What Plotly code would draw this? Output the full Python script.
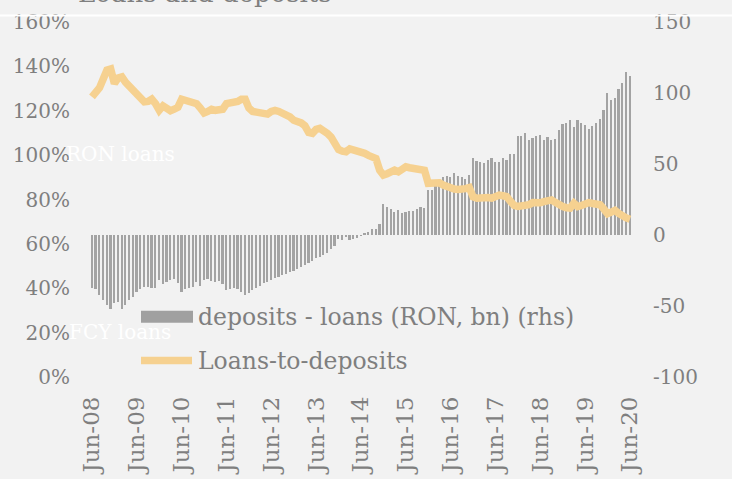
import plotly.graph_objects as go

# ---- data ----
tick_labels = ["Jun-08", "Jun-09", "Jun-10", "Jun-11", "Jun-12", "Jun-13", "Jun-14",
               "Jun-15", "Jun-16", "Jun-17", "Jun-18", "Jun-19", "Jun-20"]

# deposits - loans (RON, bn), monthly Jun-08 .. Jun-20
deposits_minus_loans = [
    -37, -38, -42.6, -46, -49.6, -51.9, -48, -47, -51.9, -49.6, -46, -43.8,
    -40.3, -38, -36.8, -36.8, -37, -37, -32, -34.4, -33.3, -32, -31, -34,
    -40, -38, -37.5, -36.8, -33.3, -36, -32, -31, -32.5, -33.3, -32.5, -34.4,
    -39, -38, -37, -38, -40.3, -42, -41, -39, -37, -36, -34, -33,
    -31.5, -30, -29.5, -28, -27.5, -26, -25, -24, -22.5, -21, -19.5, -18,
    -16.5, -15.5, -14, -12.5, -10, -8, -3, -3.5, -1.2, -3.5, -3, -2,
    -0.7, 1, 2, 4, 4.5, 7.5, 22.1, 19.6, 18.6, 16, 17.9, 15.2,
    16, 16.8, 17.2, 18.6, 19.6, 19.1, 31.9, 31.9, 36.5, 38.2, 41.2, 41.9,
    40.5, 43.5, 41.9, 40.5, 39.6, 42.4, 54, 52.4, 51.7, 51, 52.9, 54,
    51.2, 51.7, 54.5, 52.9, 56.8, 56.8, 69.8, 69.8, 72.1, 66.8, 68.4, 69.6,
    70.3, 66.8, 69.1, 66.8, 67.5, 73.8, 78.4, 79.1, 80.8, 76.1, 80.8, 79.1,
    77.3, 74.9, 76.8, 79.1, 81.9, 87.8, 99.9, 94.8, 96.4, 102.9, 106.8, 114.7,
    112.2,
]

# Loans-to-deposits (%), monthly Jun-08 .. Jun-20
loans_to_deposits = [
    126.2, 127.8, 130.3, 134.3, 138.3, 138.8, 132.3, 134.8, 135.3, 132.8, 130.8, 128.7,
    126.7, 125.2, 124.0, 124.2, 125.2, 123.2, 120.2, 122.2, 121.2, 120.0, 120.7, 121.6,
    125.2, 124.7, 123.7, 123.5, 123.2, 121.2, 119.0, 119.7, 120.7, 120.2, 120.5, 120.7,
    123.2, 123.6, 123.2, 124.2, 125.2, 125.2, 121.2, 119.7, 119.4, 119.2, 118.7, 118.5,
    119.7, 120.2, 119.7, 119.0, 118.2, 117.2, 115.7, 115.2, 114.5, 113.2, 110.2, 109.8,
    111.6, 112.1, 111.1, 109.8, 108.1, 105.1, 102.5, 101.8, 101.5, 102.8, 102.4, 101.9,
    101.4, 100.8, 99.9, 99.2, 98.5, 93.2, 91.0, 91.6, 92.3, 93.2, 92.5, 93.6,
    94.7, 94.3, 94.0, 93.6, 93.4, 93.2, 87.3, 87.5, 88.0, 87.5, 86.5, 85.7,
    85.0, 84.7, 84.5, 84.3, 84.9, 85.4, 81.2, 80.6, 80.9, 81.3, 80.9, 80.6,
    81.3, 82.0, 81.7, 81.3, 79.2, 77.3, 76.9, 77.0, 76.8, 77.7, 78.6, 78.3,
    78.5, 79.1, 79.5, 79.8, 78.7, 77.5, 76.8, 76.3, 76.1, 78.3, 76.8, 77.3,
    78.1, 78.6, 78.2, 77.9, 77.6, 75.7, 73.6, 74.3, 75.1, 73.7, 72.4, 71.7,
    71.1,
]

left_ticks = [0, 20, 40, 60, 80, 100, 120, 140, 160]
right_ticks = [-100, -50, 0, 50, 100, 150]

months = list(range(len(loans_to_deposits)))
tick_pos = [12 * i for i in range(len(tick_labels))]

# ---- style ----
FONT = "DejaVu Serif"
GRAY = "#7f7f7f"
BAR = "#a3a3a3"
LINE = "#f6d190"
BG = "#f2f2f2"

W, H = 732, 479
L, R, T, B = 88, 98, 21.5, 101.5
pw, ph = W - L - R, H - T - B


def px_x(x):
    return (x - L) / pw


def px_y(y):
    return (H - B - y) / ph


fig = go.Figure()
fig.add_trace(go.Bar(
    x=months, y=deposits_minus_loans, name="deposits - loans (RON, bn) (rhs)",
    marker=dict(color=BAR, line=dict(width=0)), width=0.45, yaxis="y",
    showlegend=False,
))
fig.add_trace(go.Scatter(
    x=months, y=loans_to_deposits, name="Loans-to-deposits", mode="lines",
    line=dict(color=LINE, width=7.5), yaxis="y2", showlegend=False,
))

shapes = [
    dict(type="line", xref="paper", yref="paper", x0=px_x(0), x1=px_x(W),
         y0=px_y(15), y1=px_y(15), line=dict(color="white", width=2), layer="above"),
    dict(type="rect", xref="paper", yref="paper", x0=px_x(141), x1=px_x(193),
         y0=px_y(323), y1=px_y(311), fillcolor="#a0a0a0", line=dict(width=0), layer="above"),
    dict(type="line", xref="paper", yref="paper", x0=px_x(141), x1=px_x(192),
         y0=px_y(361), y1=px_y(361), line=dict(color=LINE, width=7.5), layer="above"),
]

annotations = [
    dict(text="deposits - loans (RON, bn) (rhs)", xref="paper", yref="paper",
         x=px_x(196), y=px_y(317), xanchor="left", yanchor="middle", showarrow=False,
         font=dict(family=FONT, size=23.5, color=GRAY)),
    dict(text="Loans-to-deposits", xref="paper", yref="paper",
         x=px_x(196), y=px_y(361), xanchor="left", yanchor="middle", showarrow=False,
         font=dict(family=FONT, size=23.5, color=GRAY)),
    dict(text="RON loans", xref="paper", yref="paper",
         x=px_x(64), y=px_y(154), xanchor="left", yanchor="middle", showarrow=False,
         font=dict(family=FONT, size=20, color="white")),
    dict(text="FCY loans", xref="paper", yref="paper",
         x=px_x(67), y=px_y(332), xanchor="left", yanchor="middle", showarrow=False,
         font=dict(family=FONT, size=20, color="white")),
    dict(text="Loans and deposits", xref="paper", yref="paper",
         x=px_x(205), y=px_y(-8), xanchor="center", yanchor="middle", showarrow=False,
         font=dict(family=FONT, size=26, color=GRAY)),
]

fig.update_layout(
    width=W, height=H,
    margin=dict(l=L, r=R, t=T, b=B, pad=0, autoexpand=False),
    paper_bgcolor=BG, plot_bgcolor=BG,
    font=dict(family=FONT, color=GRAY, size=20),
    showlegend=False,
    bargap=0,
    xaxis=dict(
        range=[-1.07, 145.08], tickmode="array", tickvals=tick_pos, ticktext=tick_labels,
        tickangle=-90, showgrid=False, zeroline=False, showline=False, ticks="",
        tickfont=dict(family=FONT, size=23, color=GRAY), ticklabelstandoff=14,
        automargin=False, fixedrange=True,
    ),
    yaxis=dict(
        range=[-100, 150], side="right", tickmode="array", tickvals=right_ticks,
        ticktext=[str(v) for v in right_ticks], showgrid=False, zeroline=False,
        showline=False, ticks="", tickfont=dict(family=FONT, size=20, color=GRAY),
        ticklabelstandoff=18, automargin=False,
    ),
    yaxis2=dict(
        range=[0, 160], side="left", overlaying="y", tickmode="array",
        tickvals=left_ticks, ticktext=[f"{v}%" for v in left_ticks], showgrid=False,
        zeroline=False, showline=False, ticks="",
        tickfont=dict(family=FONT, size=20, color=GRAY), ticklabelstandoff=17,
        automargin=False,
    ),
    shapes=shapes,
    annotations=annotations,
)

fig.write_html(
    "out.html",
    config={"displayModeBar": False},
    post_script="document.body.style.margin='0';document.body.style.background='#f2f2f2';",
)
